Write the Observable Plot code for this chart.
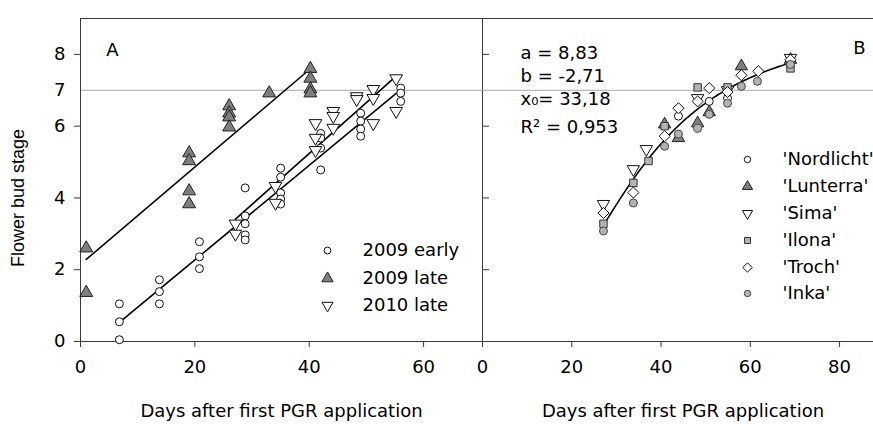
<!DOCTYPE html>
<html><head><meta charset="utf-8">
<script src="https://cdn.jsdelivr.net/npm/d3@7"></script>
<script src="https://cdn.jsdelivr.net/npm/@observablehq/plot@0.6"></script>
<style>
html,body{margin:0;padding:0;background:#fff;}
#chart{position:relative;width:873px;height:424px;overflow:hidden;background:#fff;}
#chart svg{position:absolute;top:0;}
</style></head><body><div id="chart"></div>
<script>
// ---------- Panel A data ----------
const seriesA = ["2009 early", "2009 late", "2010 late"];
const early2009Days  = [6.8,6.8,6.8,13.8,13.8,13.8,20.8,20.8,20.8,28.8,28.8,28.8,28.8,28.8,35,35,35,35,35,42,42,42,42,49,49,49,49,56,56,56];
const early2009Stage = [1.05,0.55,0.05,1.72,1.39,1.05,2.78,2.36,2.03,4.28,3.5,3.28,2.97,2.83,4.83,4.58,4.14,3.97,3.83,5.8,5.67,5.39,4.78,6.36,6.14,5.92,5.72,7.06,6.92,6.69];
const late2009Days   = [1,1,19,19,19,19,26,26,26,26,33,40.2,40.2,40.2,40.2];
const late2009Stage  = [2.6,1.36,5.25,5.03,4.19,3.83,6.56,6.36,6.25,5.97,6.92,7.6,7.33,7.03,6.92];
const late2010Days   = [27.1,27.1,34.1,34.1,41.1,41.1,41.1,44.2,44.2,44.2,48.3,48.3,51.2,51.2,51.2,55.2,55.2];
const late2010Stage  = [3.28,3.0,4.33,3.86,6.08,5.67,5.33,6.42,6.28,5.95,6.83,6.75,7.03,6.78,6.08,7.33,6.42];

// ---------- Panel B data ----------
const cultivars = ["'Nordlicht'", "'Lunterra'", "'Sima'", "'Ilona'", "'Troch'", "'Inka'"];
const nordlichtDays  = [43.9,50.8,54.9,69];
const nordlichtStage = [6.28,6.69,6.78,7.8];
const lunterraDays   = [40.8,43.9,48.2,50.8,58,69];
const lunterraStage  = [6.05,5.67,6.08,6.39,7.67,7.85];
const simaDays       = [27.1,33.8,36.7,48.2,54.9,69];
const simaStage      = [3.83,4.8,5.36,6.78,7.0,7.9];
const ilonaDays      = [27.1,33.8,37.2,40.8,48.2,54.9,69];
const ilonaStage     = [3.28,4.42,5.03,6.0,7.08,7.08,7.61];
const trochDays      = [27.1,33.8,40.8,43.9,48.2,50.8,54.9,58,61.8,69];
const trochStage     = [3.58,4.15,5.72,6.5,6.69,7.06,6.95,7.42,7.53,7.85];
const inkaDays       = [27.1,33.8,40.8,43.9,48.2,50.8,54.9,58,61.6,69];
const inkaStage      = [3.08,3.86,5.44,5.78,5.94,6.33,6.64,7.11,7.25,7.72];

// fitted 3-parameter sigmoid (panel B)
const fitA = 8.83, fitB = -2.71, fitX0 = 33.18, fitR2 = 0.953;
const fitRange = [27.1, 69];

// ticks
const xTicksA = [0, 20, 40, 60];
const xTicksB = [0, 20, 40, 60, 80];
const yTicks = [0, 2, 4, 6, 8];
const refStage = 7;

// ---------- helpers ----------
const zip = (xs, ys) => xs.map((x, i) => ({x, y: ys[i]}));
const triangleDown = {
  draw(context, size) {
    const s3 = Math.sqrt(3);
    const y = -Math.sqrt(size / (s3 * 3));
    context.moveTo(0, -y * 2);
    context.lineTo(-s3 * y, y);
    context.lineTo(s3 * y, y);
    context.closePath();
  }
};
const comma = v => String(v).replace(".", ",");
const FONT = "DejaVu Sans";
const frameColor = "#3a3a3a";
const darkGray = "#7f7f7f", lightGray = "#b3b3b3";

// pixel layout → data (legend / annotation placement only)
const A_X0 = 80, A_X1 = 482, TOP = 18, BOT = 341, A_DOM = 70.3, B_W = 391, B_DOM = 87.6, Y_DOM = 9;
const B_PAD = 40; // room left of panel B for its "0" tick label
const ax = px => (px - A_X0) / (A_X1 - A_X0) * A_DOM;
const bx = px => (px - A_X1) / B_W * B_DOM;
const yy = py => (BOT - py) / (BOT - TOP) * Y_DOM;

const stylesA = [
  {symbol: "circle", fill: "white", stroke: "#111", r: 4},
  {symbol: "triangle", fill: darkGray, stroke: "#222", r: 4.8},
  {symbol: triangleDown, fill: "white", stroke: "#111", r: 4.7}
];
const dataA = [zip(early2009Days, early2009Stage), zip(late2009Days, late2009Stage), zip(late2010Days, late2010Stage)];

const legendRowsA = [250, 278, 305];
const plotA = Plot.plot({
  width: 483, height: 424,
  marginLeft: A_X0, marginRight: 1, marginTop: TOP, marginBottom: 424 - BOT,
  x: {domain: [0, A_DOM]},
  y: {domain: [0, Y_DOM]},
  style: {fontFamily: FONT, fontSize: "18px", color: "#000", background: "transparent"},
  marks: [
    Plot.ruleY([refStage], {stroke: "#a8a8a8", strokeWidth: 1}),
    Plot.frame({stroke: frameColor}),
    Plot.axisX({ticks: xTicksA, tickSize: 6, tickPadding: 13, label: null, stroke: frameColor}),
    Plot.axisY({ticks: yTicks, tickSize: 6, tickPadding: 9, label: null, stroke: frameColor}),
    Plot.axisY({ticks: [refStage], tickSize: 0, tickPadding: 15, label: null}),
    ...dataA.map(d => Plot.linearRegressionY(d, {x: "x", y: "y", stroke: "#000", strokeWidth: 1.6, ci: 0})),
    ...dataA.map((d, i) => Plot.dot(d, {x: "x", y: "y", ...stylesA[i], strokeWidth: 1})),
    // legend
    ...seriesA.map((s, i) => Plot.dot([s], {x: () => ax(327), y: () => yy(legendRowsA[i]), ...stylesA[i], r: stylesA[i].r - 0.6, strokeWidth: 1})),
    Plot.text(seriesA, {x: () => ax(362), y: (d, i) => yy(legendRowsA[i]), text: d => d, textAnchor: "start", fontSize: 18}),
    Plot.text(["A"], {x: () => ax(112), y: () => yy(50), text: d => d, fontSize: 18}),
    Plot.text(["Flower bud stage"], {frameAnchor: "left", rotate: -90, dx: -62, dy: 18, textAnchor: "middle", lineAnchor: "middle", fontFamily: "Liberation Sans", fontSize: 18}),
    Plot.text(["Days after first PGR application"], {frameAnchor: "bottom", dy: 70, textAnchor: "middle", lineAnchor: "middle", fontSize: 18})
  ]
});

// ---------- Panel B ----------
const stylesB = [
  {symbol: "circle", fill: "white", stroke: "#111", r: 4},
  {symbol: "triangle", fill: darkGray, stroke: "#222", r: 4.6},
  {symbol: triangleDown, fill: "white", stroke: "#111", r: 4.6},
  {symbol: "square", fill: lightGray, stroke: "#333", r: 4.2},
  {symbol: "diamond2", fill: "white", stroke: "#111", r: 5},
  {symbol: "circle", fill: lightGray, stroke: "#444", r: 4}
];
const dataB = [
  zip(nordlichtDays, nordlichtStage), zip(lunterraDays, lunterraStage), zip(simaDays, simaStage),
  zip(ilonaDays, ilonaStage), zip(trochDays, trochStage), zip(inkaDays, inkaStage)
];
const curve = d3.range(fitRange[0], fitRange[1] + 0.001, 0.25).map(x => ({x, y: fitA / (1 + Math.pow(x / fitX0, fitB))}));
const eqLines = [`a = ${comma(fitA)}`, `b = ${comma(fitB)}`, `x\u2080= ${comma(fitX0)}`, `R\u00b2 = ${comma(fitR2)}`];
const eqRows = [53, 76, 99, 127];
const legendRowsB = [159, 186, 213, 240, 267, 293];

const plotB = Plot.plot({
  width: B_W + B_PAD, height: 424,
  marginLeft: B_PAD, marginRight: 0, marginTop: TOP, marginBottom: 424 - BOT,
  x: {domain: [0, B_DOM]},
  y: {domain: [0, Y_DOM]},
  style: {fontFamily: FONT, fontSize: "18px", color: "#000", background: "transparent"},
  marks: [
    Plot.ruleY([refStage], {stroke: "#a8a8a8", strokeWidth: 1}),
    Plot.ruleY([0, Y_DOM], {stroke: frameColor}),
    Plot.axisX({ticks: xTicksB, tickSize: 6, tickPadding: 13, label: null, stroke: frameColor}),
    Plot.axisY({ticks: [2, 4, 6, 8], tickSize: -7, tickFormat: () => "", label: null, stroke: frameColor}),
    Plot.line(curve, {x: "x", y: "y", stroke: "#000", strokeWidth: 1.6}),
    ...dataB.map((d, i) => Plot.dot(d, {x: "x", y: "y", ...stylesB[i], strokeWidth: 1})),
    ...cultivars.map((c, i) => Plot.dot([c], {x: () => bx(747), y: () => yy(legendRowsB[i]), ...stylesB[i], r: stylesB[i].r - 0.8, strokeWidth: 1})),
    Plot.text(cultivars, {x: () => bx(782), y: (d, i) => yy(legendRowsB[i]), text: d => d, textAnchor: "start", fontSize: 18}),
    Plot.text(eqLines, {x: () => bx(520), y: (d, i) => yy(eqRows[i]), text: d => d, textAnchor: "start", fontSize: 18}),
    Plot.text(["B"], {x: () => bx(859), y: () => yy(48), text: d => d, fontSize: 18}),
    Plot.text(["Days after first PGR application"], {frameAnchor: "bottom", dy: 70, dx: 5, textAnchor: "middle", lineAnchor: "middle", fontSize: 18})
  ]
});

const chart = document.getElementById("chart");
plotA.style.left = "0px";
plotB.style.left = (A_X1 - B_PAD) + "px";
chart.appendChild(plotA);
chart.appendChild(plotB);
</script>
</body></html>
